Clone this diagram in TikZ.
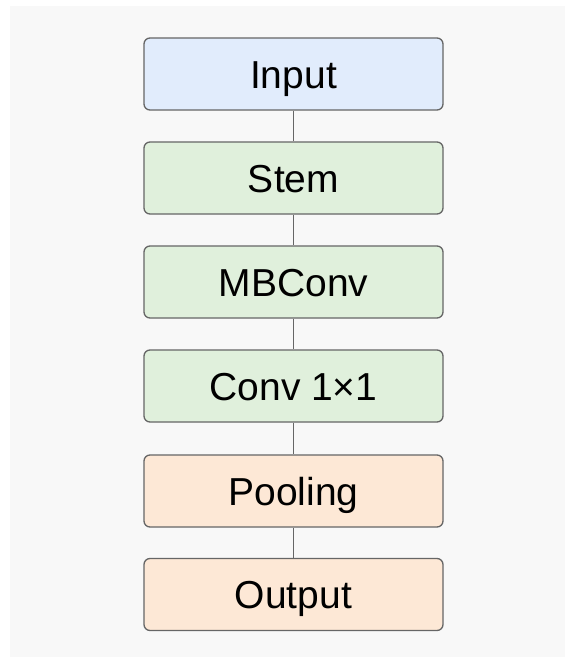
\documentclass[tikz,border=0pt]{standalone}
\usepackage{fontspec}
\setmainfont{Liberation Sans}
\begin{document}
\begin{tikzpicture}[x=1pt,y=-1pt,
  blk/.style={draw=boxline, line width=1.3pt, rounded corners=6pt,
    minimum width=299pt, minimum height=72pt, inner sep=0pt,
    text height=28pt, text depth=0pt,
    font=\fontsize{39}{44}\selectfont, text=black},
  inblk/.style={blk, fill=fillblue},
  midblk/.style={blk, fill=fillgreen},
  outblk/.style={blk, fill=fillorange},
  link/.style={draw=boxline, line width=1.3pt}]
\definecolor{boxline}{HTML}{666666}
\definecolor{fillblue}{HTML}{E1ECFC}
\definecolor{fillgreen}{HTML}{E0F0DC}
\definecolor{fillorange}{HTML}{FDE8D6}
\definecolor{bggray}{HTML}{F8F8F8}
\useasboundingbox (0,0) rectangle (565,657);
\fill[white] (0,0) rectangle (565,657);
\fill[bggray] (10,6) rectangle (565,657);
\node[inblk]  (in)   at (293.5,74)  {Input};
\node[midblk] (stem) at (293.5,178) {Stem};
\node[midblk] (mb)   at (293.5,282) {MBConv};
\node[midblk] (conv) at (293.5,386) {Conv 1×1};
\node[outblk] (pool) at (293.5,491) {Pooling};
\node[outblk] (out)  at (293.5,594.5) {Output};
\draw[link] (in) -- (stem);
\draw[link] (stem) -- (mb);
\draw[link] (mb) -- (conv);
\draw[link] (conv) -- (pool);
\draw[link] (pool) -- (out);
\end{tikzpicture}
\end{document}
